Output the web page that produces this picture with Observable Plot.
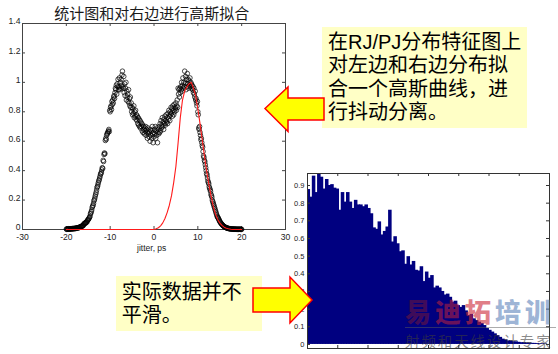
<!DOCTYPE html>
<html><head><meta charset="utf-8">
<script src="https://cdn.jsdelivr.net/npm/d3@7"></script>
<script src="https://cdn.jsdelivr.net/npm/@observablehq/plot@0.6"></script>
<style>
html,body{margin:0;padding:0;background:#fff}
body{width:558px;height:354px;position:relative;overflow:hidden;font-family:"Liberation Sans",Arial,"Noto Sans CJK SC",sans-serif}
.abs{position:absolute}
.note{background:#ffffc6;color:#000;font-size:20px;line-height:23.5px;font-family:"Liberation Sans","Noto Sans CJK SC",sans-serif;box-sizing:border-box;white-space:nowrap}
</style></head><body>
<div id="chartTop" class="abs" style="left:0;top:0;z-index:1"></div>
<div id="title" class="abs" style="left:151.7px;top:4.3px;transform:translateX(-50%);font-size:15px;line-height:18px;color:#1a1a1a;font-family:'Noto Sans CJK SC',sans-serif;white-space:nowrap;z-index:2"></div>
<div id="xlab" class="abs" style="left:151.7px;top:243px;transform:translateX(-50%);font-size:8.5px;line-height:10px;color:#222;white-space:nowrap;z-index:2"></div>
<div id="chartHist" class="abs" style="left:290px;top:160px;z-index:1"></div>
<div id="note1" class="abs note" style="left:322px;top:27px;width:205px;height:101px;padding:3.8px 0 0 6px;z-index:3"></div>
<div id="note2" class="abs note" style="left:116px;top:276px;width:146px;height:55px;padding:4.6px 0 0 5.7px;line-height:23.3px;z-index:3"></div>
<svg class="abs" style="left:0;top:0;z-index:4" width="558" height="354">
  <polygon points="265,108.5 288,87 288,98 324,98 324,120 288,120 288,131.5" fill="#ffff00" stroke="#ff0000" stroke-width="1.5"/>
  <polygon points="253,288 290,288 290,277 312,300 290,323 290,312 253,312" fill="#ffff00" stroke="#ff0000" stroke-width="1.5"/>
</svg>
<div id="wm" class="abs" style="left:405px;top:292.3px;z-index:5;font-family:'Noto Sans CJK SC',sans-serif;font-weight:900;font-size:26px;line-height:37.6px;letter-spacing:4px;white-space:nowrap;opacity:0.6"></div>
<div class="abs" style="left:405px;top:327px;width:151px;height:1px;background:rgba(90,90,90,0.5);z-index:5"></div>
<div id="wmSub" class="abs" style="left:405px;top:330.4px;z-index:5;font-family:'Noto Sans CJK SC',sans-serif;font-size:14.5px;line-height:21px;letter-spacing:1.9px;color:rgba(60,60,60,0.6);white-space:nowrap"></div>
<script>
// ---------- data ----------
const titleText = "统计图和对右边进行高斯拟合";
const xLabelText = "jitter, ps";
const xTicks = [-30, -20, -10, 0, 10, 20, 30];
const yTicks = [0, 0.2, 0.4, 0.6, 0.8, 1, 1.2, 1.4];

// measured distribution, sampled every 0.1 ps from -20 to 20
const sampleStart = -20;
const sampleStep = 0.1;
const densityY = [
  0.003,0.001,0.004,0.002,0.003,0.005,0.002,0.004,0.003,0.005,
  0.004,0.006,0.003,0.005,0.007,0.004,0.006,0.008,0.005,0.007,
  0.008,0.006,0.009,0.011,0.008,0.012,0.010,0.013,0.011,0.015,
  0.014,0.017,0.016,0.020,0.019,0.023,0.022,0.026,0.025,0.030,
  0.039,0.036,0.042,0.045,0.043,0.049,0.052,0.050,0.061,0.064,
  0.068,0.072,0.078,0.083,0.090,0.106,0.112,0.122,0.133,0.150,
  0.158,0.165,0.178,0.195,0.202,0.214,0.228,0.240,0.252,0.268,
  0.285,0.292,0.304,0.318,0.330,0.338,0.350,0.362,0.376,0.380,
  0.390,0.405,0.420,0.415,0.470,0.462,0.510,0.520,0.515,0.605,
  0.620,0.612,0.640,0.650,0.655,0.662,0.670,0.680,0.665,0.810,
  0.800,0.830,0.840,0.815,0.870,0.850,0.880,0.860,0.900,0.910,
  0.890,0.930,0.960,0.950,0.980,0.920,0.990,0.970,1.020,0.950,
  0.970,1.030,0.950,1.000,0.960,1.020,0.980,1.050,1.076,0.970,
  0.960,1.040,0.930,0.990,0.910,0.960,1.000,0.880,0.940,0.900,
  0.920,0.870,0.950,0.860,0.890,0.840,0.900,0.830,0.860,0.800,
  0.830,0.780,0.820,0.790,0.840,0.760,0.800,0.770,0.810,0.750,
  0.780,0.740,0.770,0.720,0.760,0.710,0.750,0.700,0.740,0.690,
  0.730,0.700,0.720,0.670,0.710,0.660,0.700,0.680,0.650,0.690,
  0.670,0.700,0.640,0.680,0.660,0.620,0.690,0.650,0.670,0.630,
  0.660,0.600,0.680,0.640,0.670,0.620,0.700,0.650,0.590,0.660,
  0.630,0.680,0.650,0.700,0.620,0.670,0.640,0.690,0.590,0.660,
  0.680,0.650,0.700,0.660,0.720,0.670,0.740,0.690,0.710,0.760,
  0.700,0.730,0.680,0.750,0.720,0.770,0.710,0.740,0.780,0.730,
  0.760,0.720,0.790,0.750,0.810,0.770,0.740,0.800,0.780,0.830,
  0.790,0.820,0.770,0.840,0.810,0.780,0.850,0.800,0.830,0.820,
  0.860,0.810,0.840,0.880,0.830,0.960,0.920,0.950,0.900,0.960,
  0.930,0.970,0.950,1.000,0.940,0.980,1.030,0.960,1.000,0.970,
  1.076,0.990,1.040,0.950,1.020,0.970,1.060,0.990,1.020,0.960,
  1.010,0.980,1.030,0.970,1.000,0.990,0.960,0.980,0.950,0.970,
  0.930,0.960,0.920,0.900,0.940,0.880,0.890,0.860,0.840,0.870,
  0.800,0.780,0.690,0.680,0.700,0.660,0.640,0.610,0.620,0.590,
  0.570,0.560,0.530,0.500,0.490,0.470,0.460,0.440,0.420,0.400,
  0.380,0.370,0.350,0.330,0.320,0.310,0.290,0.280,0.270,0.260,
  0.240,0.230,0.220,0.200,0.190,0.180,0.170,0.160,0.150,0.140,
  0.130,0.120,0.110,0.100,0.090,0.085,0.080,0.075,0.068,0.062,
  0.055,0.050,0.046,0.042,0.038,0.034,0.031,0.028,0.025,0.022,
  0.020,0.018,0.016,0.015,0.013,0.012,0.011,0.009,0.008,0.008,
  0.007,0.006,0.006,0.005,0.005,0.004,0.004,0.003,0.004,0.003,
  0.003,0.002,0.003,0.002,0.003,0.002,0.002,0.001,0.002,0.001,
  0.002,0.001,0.002,0.001,0.001,0.002,0.001,0.001,0.002,0.001,
  0.001
];

// Gaussian fit of the right-hand side
const fitX = [-20, 0, 0.5, 1, 1.5, 2, 2.5, 3, 3.5, 4, 4.5, 5, 5.5, 6, 6.5, 7, 7.5, 8, 8.5, 9, 9.5, 10,
  10.5, 11, 11.5, 12, 12.5, 13, 13.5, 14, 14.5, 15, 15.5, 16, 16.5, 17, 17.5, 18, 20];
const fitY = [0, 0, 0.005, 0.012, 0.025, 0.045, 0.075, 0.115, 0.165, 0.23, 0.32, 0.43, 0.59, 0.76, 0.88, 0.94, 0.97, 0.99, 1.0, 0.96, 0.91, 0.82,
  0.72, 0.61, 0.50, 0.40, 0.31, 0.23, 0.16, 0.107, 0.07, 0.045, 0.028, 0.016, 0.009, 0.005, 0.002, 0, 0];

// histogram of the real (unsmoothed) data
const histValues = [
  0.877,0.834,0.953,0.860,0.975,0.947,0.880,0.934,0.900,0.905,
  0.885,0.880,0.760,0.860,0.806,0.860,0.806,0.770,0.816,0.790,
  0.790,0.780,0.790,0.770,0.740,0.660,0.652,0.694,0.620,0.640,
  0.665,0.760,0.580,0.610,0.570,0.525,0.530,0.454,0.497,0.450,
  0.470,0.420,0.416,0.440,0.356,0.410,0.375,0.390,0.320,0.330,
  0.320,0.300,0.280,0.285,0.267,0.240,0.245,0.220,0.210,0.220,
  0.190,0.164,0.170,0.145,0.135,0.126,0.118,0.107,0.090,0.080,
  0.070,0.060,0.050,0.040,0.030,0.025,0.020,0.020,0.015,0.015,
  0.012,0.010,0.010,0.008,0.008,0.006,0.006,0.005,0.004,0.004,
  0.003
];
const histBinCount = 92;
const histYTicks = [0, 0.1, 0.2, 0.3, 0.4, 0.5, 0.6, 0.7, 0.8, 0.9];
const histXTicks = [11.5, 23, 34.5, 46, 57.5, 69, 80.5];

const note1Lines = ["在RJ/PJ分布特征图上", "对左边和右边分布拟", "合一个高斯曲线，进", "行抖动分离。"];
const note2Lines = ["实际数据并不", "平滑。"];
const watermarkChars = ["易", "迪", "拓", "培", "训"];
const watermarkColors = ["#6a1440", "#b01e42", "#cc2a38", "#5f84bb", "#5f84bb"];
const watermarkSub = "射频和天线设计专家";

// ---------- build ----------
const scatter = densityY.map((y, i) => ({x: sampleStart + i * sampleStep, y}));
const fit = fitX.map((x, i) => ({x, y: fitY[i]}));
const bins = histValues.map((v, i) => ({x1: i, x2: i + 1, y1: 0, y2: v}));
const fmt = d => String(d);

const topChart = Plot.plot({
  width: 290, height: 254,
  marginLeft: 22, marginRight: 5, marginTop: 23, marginBottom: 25,
  x: {domain: [-30, 30], label: null},
  y: {domain: [0, 1.4], label: null},
  style: {background: "transparent", fontFamily: "Liberation Sans, Arial, sans-serif", fontSize: "8.6px", color: "#222", overflow: "visible"},
  marks: [
    Plot.frame({stroke: "#444"}),
    Plot.tickX(xTicks, {x: d => d, stroke: "#444", insetTop: 203}),
    Plot.tickX(xTicks, {x: d => d, stroke: "#444", insetBottom: 203}),
    Plot.tickY(yTicks, {y: d => d, stroke: "#444", insetRight: 260}),
    Plot.tickY(yTicks, {y: d => d, stroke: "#444", insetLeft: 260}),
    Plot.axisX(xTicks, {anchor: "bottom", tickSize: 0, tickPadding: 4.8, label: null, tickFormat: fmt}),
    Plot.axisY(yTicks, {anchor: "left", tickSize: 0, tickPadding: 2, dy: -1.8, label: null, tickFormat: fmt}),
    Plot.dot(scatter, {x: "x", y: "y", r: 2.3, stroke: "#000", strokeWidth: 0.7, fill: "none"}),
    Plot.line(fit, {x: "x", y: "y", stroke: "#ff1a1a", strokeWidth: 1.1})
  ]
});
document.getElementById("chartTop").append(topChart);

const histChart = Plot.plot({
  width: 268, height: 194,
  marginLeft: 17, marginRight: 9, marginTop: 13, marginBottom: 6,
  x: {domain: [0, histBinCount], label: null, axis: null},
  y: {domain: [-0.023, 0.968], label: null},
  style: {background: "transparent", fontFamily: "Liberation Sans, Arial, sans-serif", fontSize: "7.5px", color: "#222", overflow: "visible"},
  marks: [
    Plot.rect(bins, {x1: "x1", x2: "x2", y1: "y1", y2: "y2", fill: "#000080", insetLeft: -0.45, insetRight: -0.45, clip: true}),
    Plot.frame({stroke: "#333"}),
    Plot.tickX(histXTicks, {x: d => d, stroke: "#333", insetTop: 172}),
    Plot.tickX(histXTicks, {x: d => d, stroke: "#333", insetBottom: 172}),
    Plot.tickY(histYTicks, {y: d => d, stroke: "#333", insetRight: 239}),
    Plot.tickY(histYTicks, {y: d => d, stroke: "#333", insetLeft: 239}),
    Plot.axisY(histYTicks, {anchor: "left", tickSize: 0, tickPadding: 3, label: null, tickFormat: fmt})
  ]
});
document.getElementById("chartHist").append(histChart);

document.getElementById("title").textContent = titleText;
document.getElementById("xlab").textContent = xLabelText;
for (const [id, lines] of [["note1", note1Lines], ["note2", note2Lines]]) {
  const el = document.getElementById(id);
  for (const t of lines) { const d = document.createElement("div"); d.textContent = t; el.append(d); }
}
const wm = document.getElementById("wm");
watermarkChars.forEach((c, i) => { const s = document.createElement("span"); s.textContent = c; s.style.color = watermarkColors[i]; wm.append(s); });
document.getElementById("wmSub").textContent = watermarkSub;
</script>
</body></html>
